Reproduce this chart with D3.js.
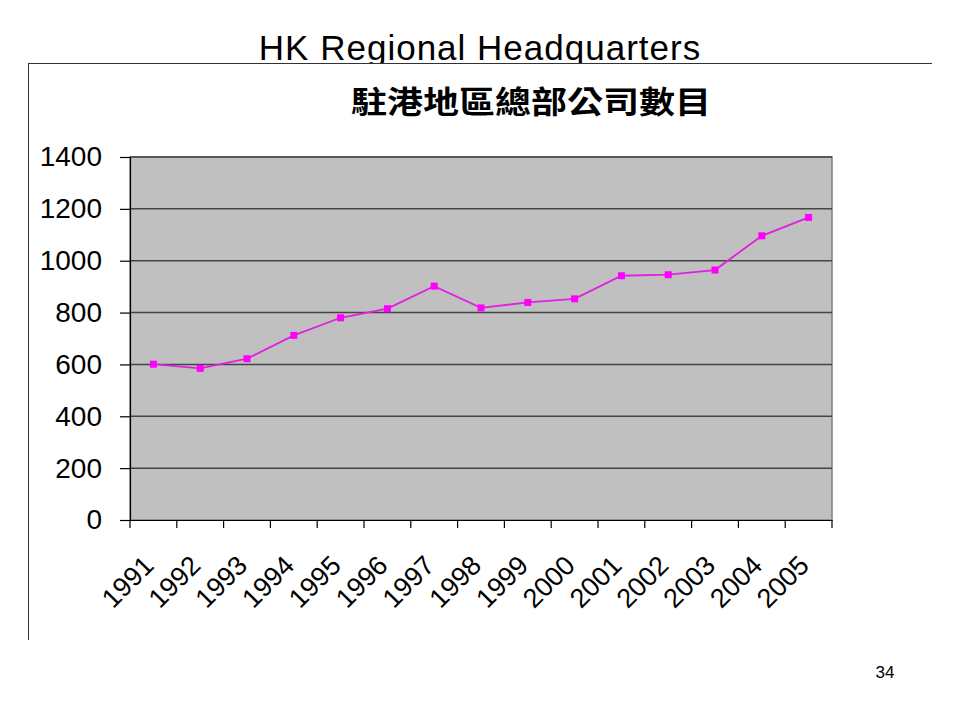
<!DOCTYPE html>
<html>
<head>
<meta charset="utf-8">
<script src="https://cdn.jsdelivr.net/npm/d3@7"></script>
<style>
html,body{margin:0;padding:0;background:#fff;}
svg{display:block;}
</style>
</head>
<body>
<svg id="chart" width="960" height="720"></svg>
<script>
const years = ["1991","1992","1993","1994","1995","1996","1997","1998","1999","2000","2001","2002","2003","2004","2005"];
const counts = [601, 585, 622, 712, 780, 815, 902, 818, 839, 853, 942, 946, 964, 1096, 1167];
const yTicks = [0, 200, 400, 600, 800, 1000, 1200, 1400];
const slideTitle = "HK Regional Headquarters";
const chartTitle = "駐港地區總部公司數目";
const pageNo = "34";

(function () {
const svg = d3.select("#chart");
const font = "Arial, 'Liberation Sans', sans-serif";

// slide title
svg.append("text").attr("x", 480).attr("y", 60).attr("text-anchor", "middle")
  .attr("font-family", font).attr("font-size", 35).attr("letter-spacing", 1)
  .attr("fill", "#000").text(slideTitle);

// chart frame (white area covers title descenders)
svg.append("rect").attr("x", 28).attr("y", 63).attr("width", 904).attr("height", 577).attr("fill", "#fff");
svg.append("line").attr("x1", 28).attr("x2", 932).attr("y1", 63.5).attr("y2", 63.5).attr("stroke", "#333").attr("stroke-width", 1);
svg.append("line").attr("x1", 28.5).attr("x2", 28.5).attr("y1", 63).attr("y2", 640).attr("stroke", "#333").attr("stroke-width", 1);

// chart title
svg.append("text").attr("transform", "translate(531,113) scale(1,0.86)").attr("text-anchor", "middle")
  .attr("font-family", "'Noto Sans CJK TC', 'Noto Sans CJK SC', sans-serif").attr("font-weight", "bold")
  .attr("font-size", 36).attr("fill", "#000").text(chartTitle);

const pLeft = 130, pRight = 832, pTop = 157, pBottom = 520;
const x = d3.scaleBand().domain(years).range([pLeft, pRight]);
const y = d3.scaleLinear().domain([0, 1400]).range([pBottom, pTop]);

svg.append("rect").attr("x", pLeft).attr("y", pTop).attr("width", pRight - pLeft).attr("height", pBottom - pTop)
  .attr("fill", "#C0C0C0").attr("stroke", "#808080").attr("stroke-width", 1.5);

// gridlines
svg.append("g").selectAll("line").data(yTicks.filter(d => d > 0)).join("line")
  .attr("x1", pLeft).attr("x2", pRight).attr("y1", d => y(d)).attr("y2", d => y(d))
  .attr("stroke", "#444").attr("stroke-width", 1.5);

// y axis
const yAxis = svg.append("g").attr("transform", `translate(${pLeft},0)`)
  .call(d3.axisLeft(y).tickValues(yTicks).tickSize(10).tickPadding(18).tickFormat(d3.format("d")));
yAxis.select(".domain").attr("stroke", "#000").attr("stroke-width", 1.2);
yAxis.selectAll(".tick line").attr("stroke", "#000").attr("stroke-width", 1.2);
yAxis.selectAll(".tick text").attr("font-family", font).attr("font-size", 28).attr("fill", "#000");

// x axis
const xAxis = svg.append("g").attr("transform", `translate(0,${pBottom})`)
  .call(d3.axisBottom(x).tickSize(0).tickFormat(""));
xAxis.select(".domain").attr("stroke", "#000").attr("stroke-width", 1.2);
const edges = years.map(d => x(d)).concat([pRight]);
xAxis.append("g").selectAll("line").data(edges).join("line")
  .attr("x1", d => d).attr("x2", d => d).attr("y1", 0).attr("y2", 8)
  .attr("stroke", "#000").attr("stroke-width", 1.2);
svg.append("g").selectAll("text").data(years).join("text")
  .attr("transform", d => `translate(${x(d) + x.bandwidth() / 2 + 2},567) rotate(-45)`)
  .attr("text-anchor", "end").attr("font-family", font).attr("font-size", 27).attr("fill", "#000")
  .text(d => d);

// line + markers
const cx = d => x(d) + x.bandwidth() / 2;
const line = d3.line().x((d, i) => cx(years[i])).y(d => y(d));
svg.append("path").datum(counts).attr("d", line).attr("fill", "none")
  .attr("stroke", "#E020E0").attr("stroke-width", 1.8);
svg.append("g").selectAll("rect").data(counts).join("rect")
  .attr("x", (d, i) => cx(years[i]) - 3.5).attr("y", d => y(d) - 3.5)
  .attr("width", 7).attr("height", 7).attr("fill", "#FF00FF");

// page number
svg.append("text").attr("x", 885).attr("y", 678).attr("text-anchor", "middle")
  .attr("font-family", font).attr("font-size", 17).attr("fill", "#000").text(pageNo);
})();
</script>
</body>
</html>
